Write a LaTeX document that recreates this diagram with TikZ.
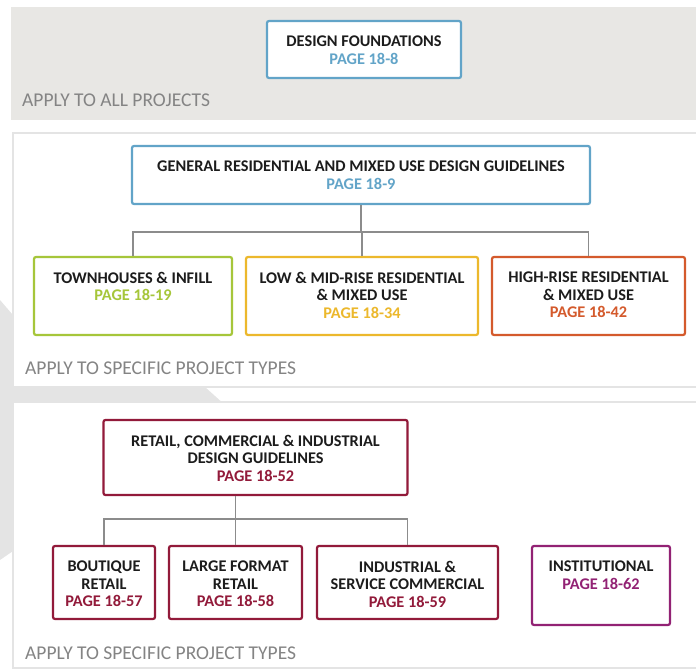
\documentclass[tikz,border=0pt]{standalone}
\usepackage{fontspec}
\setmainfont{Carlito}
\usepackage{xcolor}
\definecolor{dgblue}{RGB}{98,164,200}
\definecolor{dggreen}{RGB}{166,198,58}
\definecolor{dgyellow}{RGB}{236,184,44}
\definecolor{dgorange}{RGB}{212,90,44}
\definecolor{dgred}{RGB}{146,26,58}
\definecolor{dgpurple}{RGB}{146,34,116}
\definecolor{dgline}{RGB}{140,140,140}
\definecolor{dgtext}{RGB}{28,28,28}
\definecolor{dgnote}{RGB}{132,132,132}
\definecolor{dgband}{RGB}{232,231,228}
\definecolor{dgframe}{RGB}{228,228,228}
\usetikzlibrary{calc}

\tikzset{
  guidebox/.style={draw=#1, line width=2.2pt, rounded corners=2pt, fill=white, inner sep=0pt},
  guidetext/.style={anchor=north, align=center, inner sep=0pt, text=dgtext,
    font=\fontsize{16.3}{17.6}\selectfont\bfseries},
  conn/.style={draw=dgline, line width=1.8pt},
  note/.style={anchor=west, inner sep=0pt, text=dgnote, font=\fontsize{19.5}{20}\selectfont},
}

\begin{document}
\begin{tikzpicture}[x=1pt,y=-1pt]
  \useasboundingbox (0,0) rectangle (696,671);
  % panels
  \fill[dgframe] (0,300) -- (75,387) -- (205,387) -- (225,405) -- (0,560) -- cycle;
  \fill[dgband] (11,7) rectangle (700,120);
  \draw[dgframe, line width=2.5pt, fill=white] (13,133) rectangle (704,387);
  \draw[dgframe, line width=2.5pt, fill=white] (13,402) rectangle (704,668);
  \node[note] (allnote) at (22,100) {APPLY TO ALL PROJECTS};
  \node[note] (resnote) at (25,368) {APPLY TO SPECIFIC PROJECT TYPES};
  \node[note] (retnote) at (25,653) {APPLY TO SPECIFIC PROJECT TYPES};

  % boxes: name/x/y/width/height/colour/title/page
  \foreach \nm/\x/\y/\w/\h/\col/\txt/\pg in {
    found/364/49.5/194/57/dgblue/{DESIGN FOUNDATIONS}/18-8,
    general/361/175/458/58/dgblue/{GENERAL RESIDENTIAL AND MIXED USE DESIGN GUIDELINES}/18-9,
    town/133/296/198/78/dggreen/{TOWNHOUSES \& INFILL}/18-19,
    low/362/296/232/78/dgyellow/{LOW \& MID-RISE RESIDENTIAL\\\& MIXED USE}/18-34,
    high/588.5/296/193/78/dgorange/{HIGH-RISE RESIDENTIAL\\\& MIXED USE}/18-42,
    retail/255.5/457.5/304/75/dgred/{RETAIL, COMMERCIAL \& INDUSTRIAL\\DESIGN GUIDELINES}/18-52,
    boutique/104/582.5/102/73/dgred/{BOUTIQUE\\RETAIL}/18-57,
    large/235.5/582.5/133/73/dgred/{LARGE FORMAT\\RETAIL}/18-58,
    indus/407.5/582.5/181/73/dgred/{INDUSTRIAL \&\\SERVICE COMMERCIAL}/18-59,
    inst/601/585.5/138/79/dgpurple/{INSTITUTIONAL}/18-62}{
    \node[guidebox=\col, minimum width=\w pt, minimum height=\h pt] (\nm) at (\x,\y) {};
    \node[guidetext] (\nm txt) at ($(\nm.north)+(0,16)$) {\txt\\\textcolor{\col}{PAGE \pg}};
  }

  % connectors
  \coordinate (resbus) at ($(general.south)+(0,27)$);
  \draw[conn] (general.south) -- (resbus);
  \draw[conn] (town.north) |- (resbus) -| (high.north);
  \draw[conn] (low.north) -- (low.north |- resbus);
  \coordinate (retbus) at (large.north |- 0,519);
  \draw[conn] (large.north) -- (large.north |- retail.south);
  \draw[conn] (boutique.north) |- (retbus) -| (indus.north);
\end{tikzpicture}
\end{document}
